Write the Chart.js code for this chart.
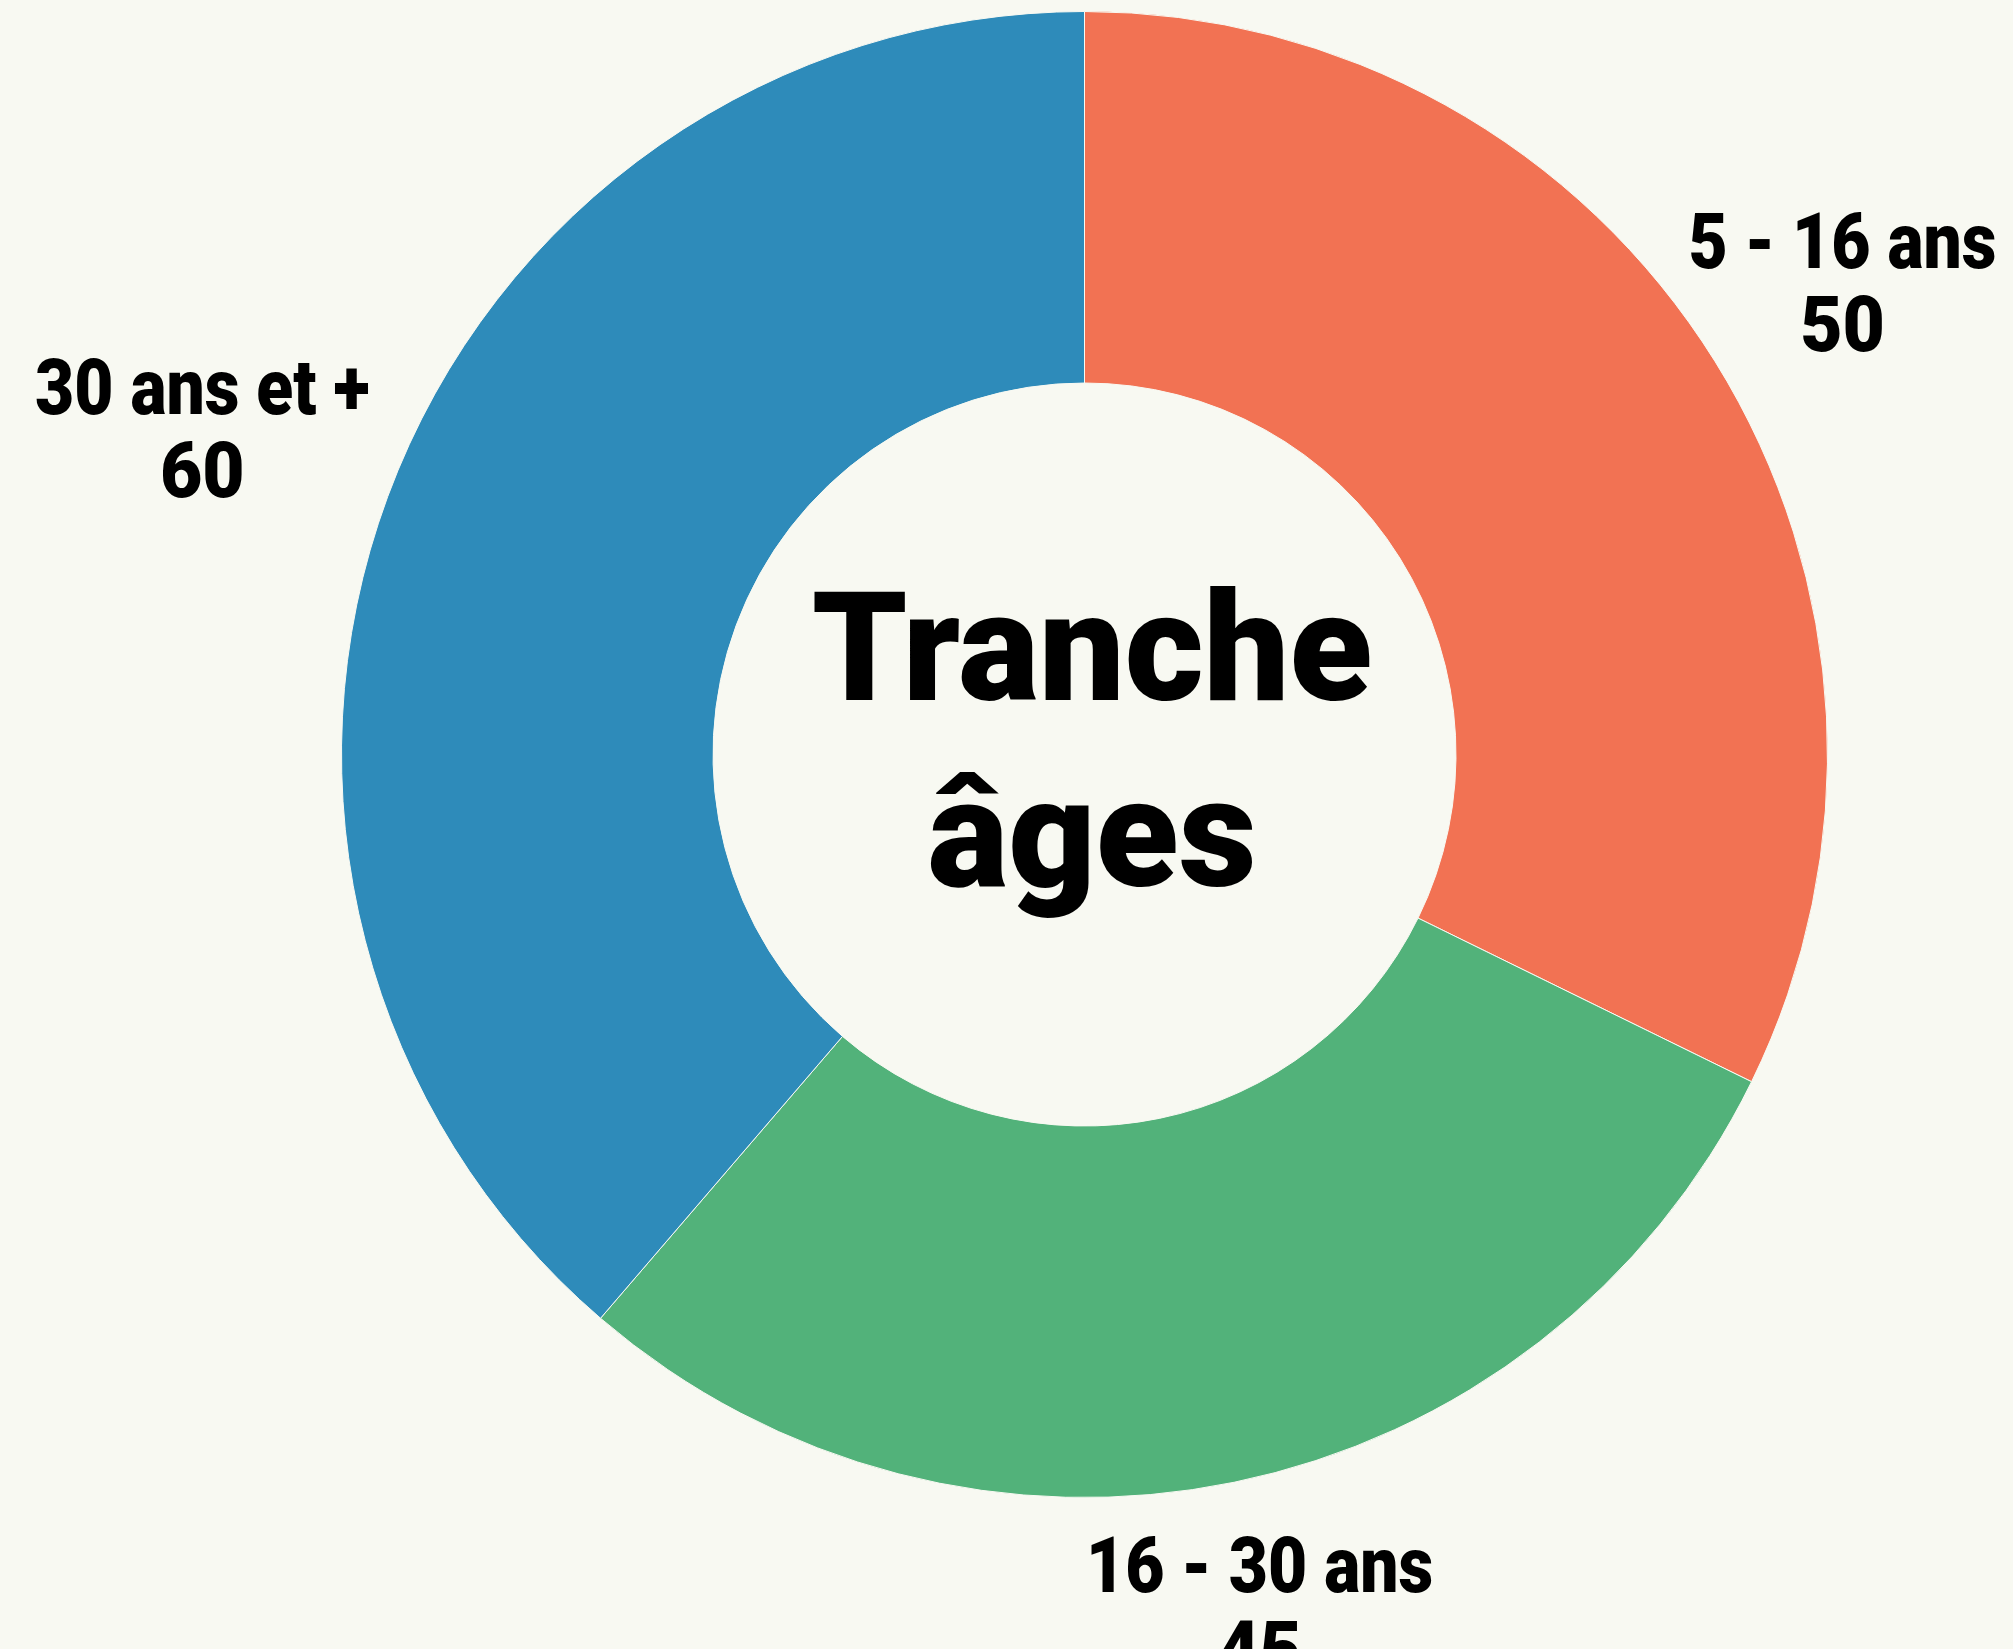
<!doctype html>
<html lang="fr">
  <head>
    <meta charset="utf-8">
    <title>Tranche âges</title>
    <script src="https://cdn.jsdelivr.net/npm/chart.js"></script>
    <style>
      body { margin: 0; background-color: #F8F9F2; }
      #wrap { width: 2013px; height: 1649px; }
    </style>
  </head>
  <body>
    <div id="wrap">
      <canvas id="ages"></canvas>
    </div>

    <script>
    // data
    const tranches = ['5 - 16 ans', '16 - 30 ans', '30 ans et +'];
    const effectifs = [50, 45, 60];
    const couleurs = ['#F27253', '#52B27A', '#2E8BBA'];
    const titre = ['Tranche', 'âges'];

    const FONT = 'Roboto, "Lato Black", Lato, sans-serif';

    // draw a line of text squeezed a little horizontally
    function narrowText(ctx, txt, x, y, sx) {
      ctx.save();
      ctx.translate(x, y);
      ctx.scale(sx, 1);
      ctx.fillText(txt, 0, 0);
      ctx.restore();
    }

    // label + value outside each slice
    const outLabels = {
      id: 'outLabels',
      afterDatasetsDraw(chart) {
        const ctx = chart.ctx;
        const meta = chart.getDatasetMeta(0);
        const size = 77;
        meta.data.forEach((arc, i) => {
          const p = arc.getProps(['x', 'y', 'startAngle', 'endAngle', 'outerRadius'], true);
          const mid = (p.startAngle + p.endAngle) / 2;
          const span = p.endAngle - p.startAngle;
          const d = p.outerRadius * (0.883 + 0.1575 * span);
          const lx = p.x + Math.cos(mid) * d;
          const ly = p.y + Math.sin(mid) * d;
          ctx.save();
          ctx.font = '900 ' + size + 'px ' + FONT;
          ctx.fillStyle = '#000';
          ctx.textAlign = 'center';
          ctx.textBaseline = 'alphabetic';
          narrowText(ctx, tranches[i], lx, ly - 0.18 * size, 0.88);
          narrowText(ctx, String(effectifs[i]), lx, ly + 0.9 * size, 0.95);
          ctx.restore();
        });
      }
    };

    // big title in the hole
    const centerText = {
      id: 'centerText',
      afterDraw(chart) {
        const ctx = chart.ctx;
        const arc = chart.getDatasetMeta(0).data[0];
        if (!arc) return;
        const size = 152;
        const cx = arc.x + 0.05 * size;
        ctx.save();
        ctx.font = '900 ' + size + 'px ' + FONT;
        ctx.fillStyle = '#000';
        ctx.textAlign = 'center';
        ctx.textBaseline = 'alphabetic';
        ctx.fillText(titre[0], cx, arc.y - 0.36 * size);
        ctx.fillText(titre[1], cx, arc.y + 0.865 * size);
        ctx.restore();
      }
    };

    new Chart(document.getElementById('ages'), {
      type: 'doughnut',
      data: {
        labels: tranches,
        datasets: [{
          data: effectifs,
          backgroundColor: couleurs,
          borderColor: '#F8F9F2',
          borderWidth: 1
        }]
      },
      options: {
        responsive: true,
        maintainAspectRatio: false,
        animation: false,
        cutout: '50%',
        layout: { padding: { top: 11, bottom: 151, left: 156, right: 0 } },
        plugins: {
          legend: { display: false },
          tooltip: { enabled: false }
        }
      },
      plugins: [outLabels, centerText]
    });
    </script>
  </body>
</html>
